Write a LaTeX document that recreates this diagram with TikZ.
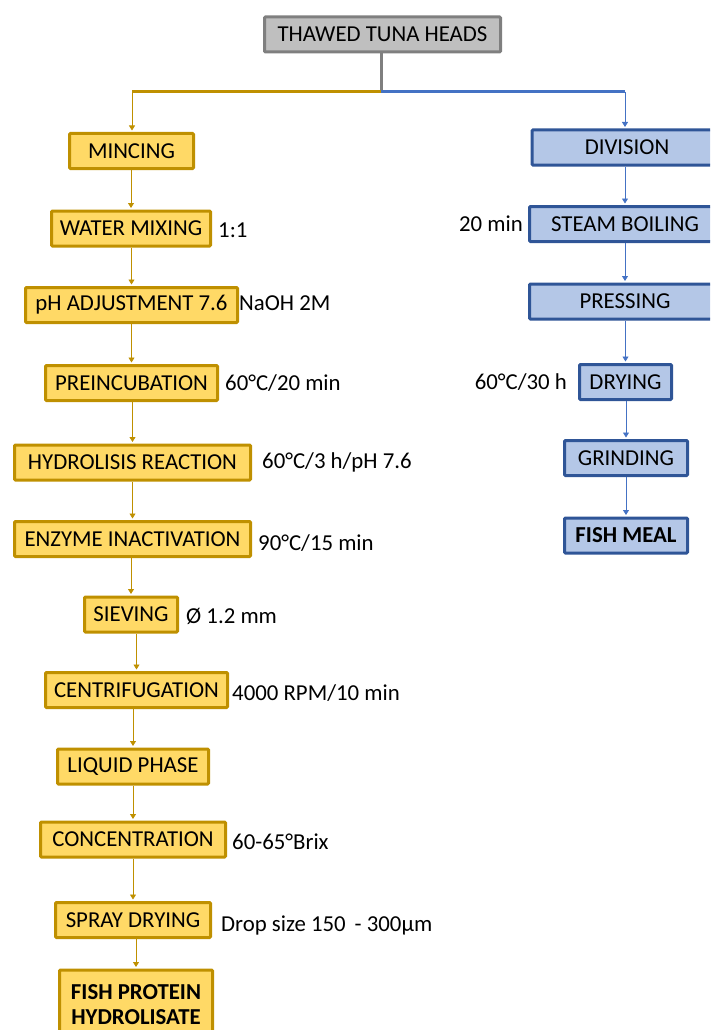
\documentclass[tikz,border=0pt]{standalone}
\usepackage{fontspec}
\setmainfont{Carlito}
\usepackage{xcolor}
\usetikzlibrary{arrows.meta, positioning}
\definecolor{goldfill}{HTML}{FFD966}
\definecolor{goldline}{HTML}{BF9000}
\definecolor{bluefill}{HTML}{B4C7E7}
\definecolor{blueline}{HTML}{2F5597}
\definecolor{bluearr}{HTML}{4472C4}
\definecolor{grayfill}{HTML}{BFBFBF}
\definecolor{grayline}{HTML}{7F7F7F}

\begin{document}
\begin{tikzpicture}[
  x=1pt, y=-1pt,
  box/.style={draw, line width=3pt, rounded corners=1pt, minimum height=35pt, inner sep=0pt, align=center, font=\fontsize{22.8}{25}\selectfont},
  gbox/.style={box, draw=goldline, fill=goldfill},
  bbox/.style={box, draw=blueline, fill=bluefill},
  note/.style={inner sep=0pt, font=\fontsize{22.8}{25}\selectfont},
  garr/.style={-{Triangle[length=5pt, width=6pt]}, draw=goldline, line width=0.8pt, shorten >=1.5pt},
  barr/.style={-{Triangle[length=5pt, width=6pt]}, draw=bluearr, line width=0.8pt, shorten >=1.5pt},
  split/.style={line width=3pt}
]
\useasboundingbox (0,0) rectangle (710,1030);
\clip (0,0) rectangle (710,1030);

\node[box, draw=grayline, fill=grayfill, minimum width=236pt] (top) at (382.5,34.5) {THAWED TUNA HEADS};
\coordinate (sp) at (381,92);
\coordinate (lsp) at (132,92);
\coordinate (rsp) at (625,92);

\node[gbox, minimum width=124pt] (mince) at (131.5,151) {MINCING};
\node[gbox, minimum width=159pt] (water) at (131,228.5) {WATER MIXING};
\node[gbox, minimum width=212pt] (ph) at (131.5,305) {pH ADJUSTMENT 7.6};
\node[gbox, minimum width=172pt] (preinc) at (131.5,383) {PREINCUBATION};
\node[gbox, minimum width=236pt] (hydro) at (132.5,462.5) {HYDROLISIS REACTION};
\node[gbox, minimum width=236pt] (enzyme) at (132.5,539) {ENZYME INACTIVATION};
\node[gbox, minimum width=93pt] (sieve) at (131,614.5) {SIEVING};
\node[gbox, minimum width=182pt] (centri) at (136.5,690) {CENTRIFUGATION};
\node[gbox, minimum width=151pt] (liquid) at (133,766.5) {LIQUID PHASE};
\node[gbox, minimum width=185pt] (conc) at (133,839.5) {CONCENTRATION};
\node[gbox, minimum width=155pt] (spray) at (133,920) {SPRAY DRYING};
\node[gbox, minimum width=153pt, minimum height=70pt, font=\fontsize{22.8}{25}\selectfont\bfseries] (fph) at (136,1005) {FISH PROTEIN\\HYDROLISATE};

\node[note, anchor=west] (n-water) at (218,230) {1:1};
\node[note, anchor=west] (n-ph) at (239,303) {NaOH 2M};
\node[note, anchor=west] (n-preinc) at (225,383) {60°C/20 min};
\node[note, anchor=west] (n-hydro) at (262,462) {60°C/3 h/pH 7.6};
\node[note, anchor=west] (n-enzyme) at (258,543) {90°C/15 min};
\node[note, anchor=west] (n-sieve) at (186,616) {Ø 1.2 mm};
\node[note, anchor=west] (n-centri) at (232,693) {4000 RPM/10 min};
\node[note, anchor=west] (n-conc) at (232,842) {60-65°Brix};
\node[note, anchor=west] (n-spray) at (221,925) {Drop size 150\, - 300µm};

\node[bbox, minimum width=190pt] (div) at (627,147.5) {DIVISION};
\node[bbox, minimum width=191pt] (steam) at (625,224) {STEAM BOILING};
\node[bbox, minimum width=191pt] (press) at (625,301.5) {PRESSING};
\node[bbox, minimum width=92pt] (dry) at (625.5,382) {DRYING};
\node[bbox, minimum width=123pt] (grind) at (626,458) {GRINDING};
\node[bbox, minimum width=123pt, font=\fontsize{22.8}{25}\selectfont\bfseries] (meal) at (626,535.5) {FISH MEAL};

\node[note, anchor=east] (n-steam) at (523,224) {20 min};
\node[note, anchor=east] (n-dry) at (567,382) {60°C/30 h};

\draw[split, grayline] (top.south -| sp) -- (sp);
\draw[split, goldline] (sp) -- (lsp);
\draw[split, bluearr] (sp) -- (rsp);
\draw[garr] (lsp) -- (mince.north -| lsp);
\draw[barr] (rsp) -- (div.north -| rsp);

\draw[garr] (mince.south -| water.north) -- (water.north);
\draw[garr] (water.south -| ph.north) -- (ph.north);
\draw[garr] (ph.south -| preinc.north) -- (preinc.north);
\draw[garr] (preinc.south -| hydro.north) -- (hydro.north);
\draw[garr] (hydro.south -| enzyme.north) -- (enzyme.north);
\draw[garr] (enzyme.south -| sieve.north) -- (sieve.north);
\draw[garr] (sieve.south -| centri.north) -- (centri.north);
\draw[garr] (centri.south -| liquid.north) -- (liquid.north);
\draw[garr] (liquid.south -| conc.north) -- (conc.north);
\draw[garr] (conc.south -| spray.north) -- (spray.north);
\draw[garr] (spray.south -| fph.north) -- (fph.north);

\draw[barr] (div.south -| steam.north) -- (steam.north);
\draw[barr] (steam.south -| press.north) -- (press.north);
\draw[barr] (press.south -| dry.north) -- (dry.north);
\draw[barr] (dry.south -| grind.north) -- (grind.north);
\draw[barr] (grind.south -| meal.north) -- (meal.north);
\end{tikzpicture}
\end{document}
